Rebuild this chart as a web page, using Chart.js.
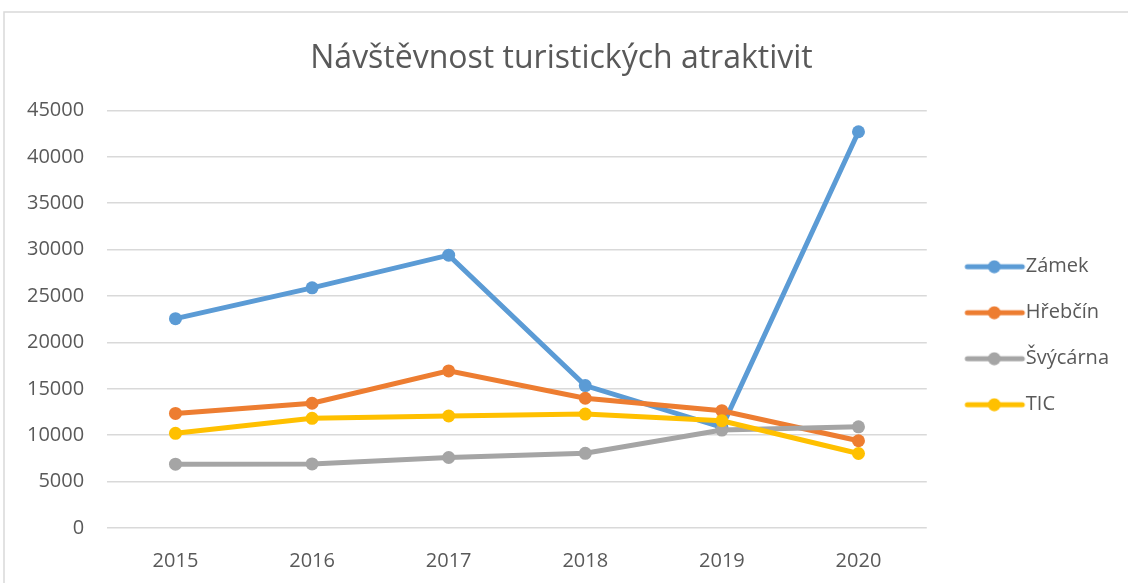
<!DOCTYPE html>
<html>
<head>
<meta charset="utf-8">
<script src="https://cdn.jsdelivr.net/npm/chart.js@4"></script>
<style>
  body { margin: 0; background: #fff; }
  #wrap { width: 1128px; height: 583px; }
</style>
</head>
<body>
<div id="wrap"><canvas id="myChart" width="1128" height="583"></canvas></div>
<script>
const years = ['2015', '2016', '2017', '2018', '2019', '2020'];
const zamek = [22560, 25880, 29400, 15350, 10850, 42700];
const hrebcin = [12350, 13440, 16930, 13980, 12640, 9400];
const svycarna = [6880, 6900, 7600, 8050, 10550, 10900];
const tic = [10200, 11820, 12070, 12280, 11560, 8030];
const yTicks = [0, 5000, 10000, 15000, 20000, 25000, 30000, 35000, 40000, 45000];

const textColor = '#595959';
const gridColor = '#d9d9d9';
const fontFamily = "'Open Sans', sans-serif";

// legend marker: short line with a dot in the middle (left part kept blank as a gap)
function legendMarker(color) {
  const c = document.createElement('canvas');
  c.width = 100;
  c.height = 14;
  const g = c.getContext('2d');
  g.strokeStyle = color;
  g.lineWidth = 5;
  g.lineCap = 'round';
  g.beginPath();
  g.moveTo(33, 7);
  g.lineTo(88, 7);
  g.stroke();
  g.fillStyle = color;
  g.beginPath();
  g.arc(60, 7, 6.5, 0, Math.PI * 2);
  g.fill();
  return c;
}

function series(label, data, color, order) {
  return {
    label: label,
    data: data,
    borderColor: color,
    backgroundColor: color,
    borderWidth: 5,
    pointRadius: 6.5,
    pointHoverRadius: 6.5,
    pointBorderWidth: 0,
    pointStyle: 'circle',
    tension: 0,
    order: order,
    legendMarker: legendMarker(color)
  };
}

const framePlugin = {
  id: 'frame',
  beforeDraw(chart) {
    const c = chart.ctx;
    c.save();
    c.fillStyle = '#fff';
    c.fillRect(0, 0, chart.width, chart.height);
    c.strokeStyle = '#d9d9d9';
    c.lineWidth = 1.5;
    c.strokeRect(4, 12, chart.width + 10, chart.height + 10);
    c.restore();
  }
};

const ctx = document.getElementById('myChart').getContext('2d');

new Chart(ctx, {
  type: 'line',
  data: {
    labels: years,
    datasets: [
      series('Zámek', zamek, '#5b9bd5', 4),
      series('Hřebčín', hrebcin, '#ed7d31', 3),
      series('Švýcárna', svycarna, '#a5a5a5', 2),
      series('TIC', tic, '#ffc000', 1)
    ]
  },
  options: {
    responsive: false,
    animation: false,
    layout: {
      padding: { top: 20, left: 4, right: 9, bottom: -3 }
    },
    plugins: {
      title: {
        display: true,
        text: 'Návštěvnost turistických atraktivit',
        color: textColor,
        font: { family: fontFamily, size: 32, weight: '400' },
        padding: { top: 20, bottom: 32 }
      },
      legend: {
        position: 'right',
        title: {
          display: true,
          text: ' ',
          font: { size: 12 },
          padding: { top: 51, bottom: 0 }
        },
        labels: {
          color: textColor,
          font: { family: fontFamily, size: 20 },
          usePointStyle: true,
          pointStyleWidth: 63,
          boxHeight: 14,
          padding: 26,
          generateLabels(chart) {
            return chart.data.datasets.map((ds, i) => ({
              text: ds.label,
              fillStyle: ds.borderColor,
              strokeStyle: ds.borderColor,
              fontColor: textColor,
              lineWidth: 0,
              pointStyle: ds.legendMarker,
              hidden: false,
              datasetIndex: i
            }));
          }
        }
      },
      tooltip: { enabled: false }
    },
    scales: {
      x: {
        offset: true,
        grid: { display: false },
        border: { display: false },
        ticks: {
          color: textColor,
          font: { family: fontFamily, size: 20 },
          padding: 13
        }
      },
      y: {
        min: 0,
        max: 45000,
        afterBuildTicks(axis) {
          axis.ticks = yTicks.map(v => ({ value: v }));
        },
        grid: { color: gridColor, lineWidth: 1.5, drawTicks: false },
        border: { display: false },
        ticks: {
          color: textColor,
          font: { family: fontFamily, size: 20 },
          padding: 23,
          callback: v => String(v)
        }
      }
    }
  },
  plugins: [framePlugin]
});
</script>
</body>
</html>
